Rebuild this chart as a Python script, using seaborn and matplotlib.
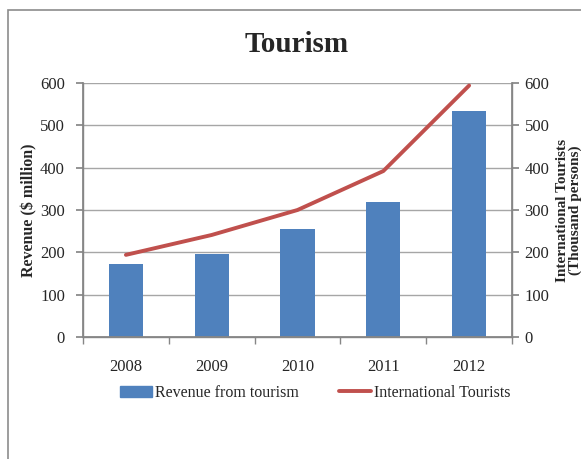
import matplotlib
matplotlib.use("Agg")
import matplotlib.pyplot as plt
import matplotlib.patches as mpatches
from matplotlib.lines import Line2D
import numpy as np
import pandas as pd
import seaborn as sns

years = ["2008", "2009", "2010", "2011", "2012"]
revenue = [172, 196, 254, 318, 534]
tourists = [194, 241, 300, 392, 594]
yticks = [0, 100, 200, 300, 400, 500, 600]

sns.set_theme(style="white")
plt.rcParams["font.family"] = ["Liberation Serif", "DejaVu Serif"]

BLUE = "#4F81BD"
RED = "#C0504D"
GRAY = "#868686"

fig = plt.figure(figsize=(5.81, 4.59), dpi=100)
ax = fig.add_axes([83 / 581, 1 - 337 / 459, (512 - 83) / 581, (337 - 83) / 459])

df = pd.DataFrame({"year": years, "revenue": revenue})
sns.barplot(data=df, x="year", y="revenue", color=BLUE, width=0.4, ax=ax,
            saturation=1, edgecolor="none")
ax.set_ylim(0, 600)
ax.set_xlim(-0.5, len(years) - 0.5)
ax.set_yticks(yticks)
ax.set_yticklabels([str(v) for v in yticks], fontsize=12)
ax.set_xticks(range(len(years)))
ax.set_xticklabels(years, fontsize=12)
ax.set_xticks(np.arange(-0.5, len(years), 1.0), minor=True)
ax.tick_params(axis="x", which="major", length=0, pad=16)
ax.tick_params(axis="x", which="minor", length=5, color=GRAY, direction="out", bottom=True)
ax.tick_params(axis="y", length=5, color=GRAY, direction="out", left=True, pad=8)
ax.yaxis.grid(True, color="#A6A6A6", linewidth=1)
ax.set_axisbelow(True)
ax.set_xlabel("")
ax.set_ylabel("Revenue ($ million)", fontsize=11.5, fontweight="bold", labelpad=2)
for s in ["left", "bottom", "right"]:
    ax.spines[s].set_color(GRAY)
    ax.spines[s].set_linewidth(1)
ax.spines["top"].set_visible(False)

ax2 = ax.twinx()
sns.lineplot(x=np.arange(len(years)), y=tourists, ax=ax2, color=RED, linewidth=2.8)
ax2.set_ylim(0, 600)
ax2.set_yticks(yticks)
ax2.set_yticklabels([str(v) for v in yticks], fontsize=12)
ax2.tick_params(axis="y", length=5, color=GRAY, direction="out", right=True, pad=4)
ax2.set_ylabel("International Tourists\n(Thousand persons)", fontsize=11,
               fontweight="bold", labelpad=5, linespacing=0.9)
for s in ["left", "bottom", "right"]:
    ax2.spines[s].set_color(GRAY)
ax2.spines["top"].set_visible(False)
ax2.grid(False)

fig.text(297 / 581, 1 - 45 / 459, "Tourism", ha="center", va="center",
         fontsize=21, fontweight="bold")

handles = [mpatches.Patch(color=BLUE, label="Revenue from tourism"),
           Line2D([0], [0], color=RED, linewidth=2.8, label="International Tourists")]
fig.legend(handles=handles, loc="center", bbox_to_anchor=(315 / 581, 1 - 393 / 459),
           ncol=2, frameon=False, fontsize=11.5, handlelength=2.0, handletextpad=0.2,
           columnspacing=2.5)

frame = mpatches.Rectangle((8 / 581, -0.1), 1.2, 1 - 10 / 459 + 0.1,
                           transform=fig.transFigure, fill=False,
                           edgecolor="#8C8C8C", linewidth=1.2)
fig.patches.append(frame)

fig.savefig("out.png", dpi=100, facecolor="white")
